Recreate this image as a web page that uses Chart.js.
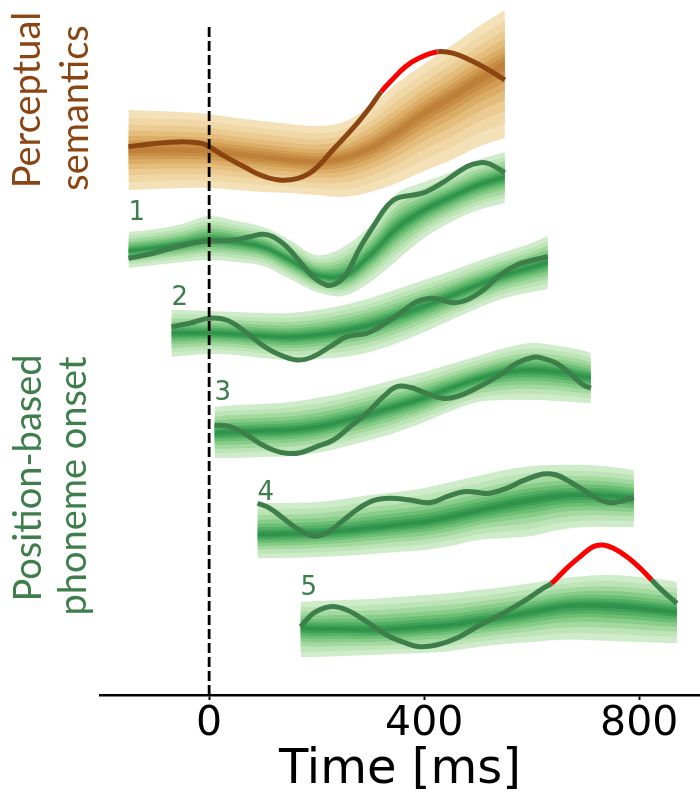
<!DOCTYPE html>
<html>
<head>
<meta charset="utf-8">
<script src="https://cdn.jsdelivr.net/npm/chart.js@4.4.1/dist/chart.umd.min.js"></script>
<style>
  html, body { margin: 0; padding: 0; background: #ffffff; overflow: hidden; }
  #wrap { width: 700px; height: 795px; }
</style>
</head>
<body>
<div id="wrap"><canvas id="chart" width="700" height="795"></canvas></div>
<script>
// ---- Time axis ----
const xTicks = [0, 400, 800];
const onsetLine = [{ x: 0, y: 0 }, { x: 0, y: 66.8 }];

// ---- Vertical offsets of the stacked traces (arbitrary units) ----
const traceOffsets = [54.5, 44.5, 36.0, 26.5, 16.5, 7.0];
const traceTags = ['', '1', '2', '3', '4', '5'];

// ---- Trace 0: perceptual semantics ----
const bandTimes0 = [-150, -100, -50, 0, 50, 100, 150, 200, 250, 300, 350, 400, 450, 500, 550];
const upper0 = [4.0, 3.9, 3.8, 3.6, 3.2, 2.9, 2.6, 2.4, 2.8, 4.4, 6.7, 8.6, 10.4, 12.3, 14.0];
const center0 = [0, 0, 0, -0.1, -0.4, -0.7, -1.0, -1.2, -0.8, 0.2, 1.8, 3.7, 5.3, 7.0, 8.5];
const lower0 = [-4.0, -3.9, -3.8, -3.8, -4.0, -4.2, -4.3, -4.5, -4.7, -4.2, -3.3, -2.1, -1.0, 0.3, 1.2];
const lineTimes0 = [-150, -110, -50, -15, 0, 30, 65, 95, 130, 165, 195, 230, 270, 300, 320, 340, 365, 390, 425, 455, 485, 515, 550];
const lineValues0 = [0.33, 0.6, 0.83, 0.67, 0.33, -0.67, -1.67, -2.5, -3.0, -2.83, -2.0, 0, 2.33, 4.33, 5.83, 7.0, 8.33, 9.17, 9.83, 9.67, 9.0, 8.17, 7.0];
const sigWindow0 = [320, 425];

// ---- Trace 1: phoneme onset, position 1 ----
const bandTimes1 = [-150, -100, -50, 0, 50, 100, 150, 200, 250, 300, 350, 400, 450, 500, 550];
const upper1 = [1.8, 2.1, 2.6, 3.4, 2.9, 2.3, 1.0, -0.5, 0.3, 2.5, 5.7, 6.8, 7.8, 9.0, 9.8];
const center1 = [-0.1, 0.2, 0.6, 1.0, 0.8, 0.3, -1.0, -2.5, -2.6, -0.5, 2.2, 4.0, 5.3, 6.5, 7.3];
const lower1 = [-1.8, -1.5, -1.2, -1.0, -1.2, -1.6, -2.9, -4.2, -4.6, -3.2, -1.0, 1.2, 2.8, 4.0, 4.7];
const lineTimes1 = [-150, -110, -60, -17, 0, 45, 76, 100, 119, 144, 169, 193, 218, 237, 256, 280, 305, 330, 349, 380, 404, 442, 479, 504, 522, 550];
const lineValues1 = [-0.83, -0.4, 0.33, 0.83, 0.9, 1.0, 1.33, 1.57, 1.33, 0.33, -1.17, -2.67, -3.5, -3.33, -2.33, 0.17, 2.33, 4.33, 5.17, 5.5, 5.83, 7.0, 8.33, 8.73, 8.6, 7.73];

// ---- Trace 2 ----
const bandTimes2 = [-70, -50, 0, 50, 100, 150, 200, 250, 300, 350, 400, 450, 500, 550, 600, 630];
const upper2 = [2.5, 2.5, 2.4, 2.3, 2.2, 2.2, 2.5, 3.0, 3.7, 4.6, 5.5, 6.4, 7.4, 8.3, 9.2, 9.9];
const center2 = [0.2, 0.2, 0.2, 0.1, -0.1, -0.2, 0, 0.4, 1.0, 1.9, 2.9, 3.9, 5.0, 6.0, 6.8, 7.3];
const lower2 = [-2.2, -2.1, -1.9, -2.0, -2.3, -2.5, -2.4, -2.2, -1.7, -0.8, 0.3, 1.5, 2.7, 3.7, 4.3, 4.6];
const lineTimes2 = [-70, -36, 0, 32, 63, 94, 125, 163, 193, 225, 256, 293, 318, 355, 386, 417, 454, 479, 510, 541, 572, 603, 630];
const lineValues2 = [0.83, 1.17, 1.67, 1.5, 0.5, -0.83, -1.83, -2.5, -2.17, -1.17, -0.17, 0.17, 0.83, 2.17, 3.33, 3.67, 3.23, 3.5, 4.5, 6.0, 7.0, 7.5, 7.83];

// ---- Trace 3 ----
const bandTimes3 = [10, 50, 100, 150, 200, 250, 300, 350, 400, 450, 500, 550, 600, 650, 700, 710];
const upper3 = [2.3, 2.5, 2.6, 2.8, 3.2, 3.7, 4.4, 5.1, 5.8, 6.6, 7.4, 8.2, 8.7, 8.4, 7.9, 7.7];
const center3 = [-0.3, -0.2, -0.1, 0, 0.3, 0.9, 1.6, 2.4, 3.2, 4.2, 5.1, 5.8, 6.0, 5.8, 5.3, 5.2];
const lower3 = [-2.8, -2.8, -2.7, -2.6, -2.3, -1.7, -1.0, -0.2, 0.8, 1.9, 2.8, 3.0, 3.0, 2.9, 2.7, 2.7];
const lineTimes3 = [10, 39, 70, 94, 119, 144, 169, 200, 231, 262, 293, 324, 349, 373, 404, 435, 460, 497, 541, 572, 603, 621, 646, 671, 696, 710];
const lineValues3 = [0.5, 0.33, -0.5, -1.33, -2.0, -2.33, -2.27, -1.67, -1.0, 0.33, 1.67, 3.33, 4.33, 4.27, 3.67, 3.17, 3.33, 4.17, 5.5, 6.67, 7.27, 7.17, 6.67, 5.67, 4.5, 4.17];

// ---- Trace 4 ----
const bandTimes4 = [90, 150, 200, 250, 300, 350, 400, 450, 500, 550, 600, 650, 700, 750, 790];
const upper4 = [2.7, 2.7, 2.8, 3.1, 3.5, 3.8, 4.2, 4.8, 5.4, 6.0, 6.4, 6.5, 6.5, 6.3, 6.0];
const center4 = [-0.5, -0.4, -0.3, -0.1, 0.2, 0.5, 0.8, 1.3, 1.9, 2.5, 3.0, 3.4, 3.5, 3.4, 3.2];
const lower4 = [-2.8, -2.8, -2.7, -2.6, -2.4, -2.2, -2.0, -1.6, -1.0, -0.8, -0.6, 0, 0.3, 0.3, 0.3];
const lineTimes4 = [90, 113, 138, 163, 193, 218, 243, 274, 305, 336, 373, 411, 442, 473, 497, 522, 553, 584, 621, 646, 671, 696, 721, 746, 770, 790];
const lineValues4 = [2.67, 2.17, 1.17, 0.17, -0.6, -0.33, 0.67, 2.0, 2.93, 3.17, 3.0, 2.73, 3.33, 3.83, 3.77, 3.67, 4.17, 4.93, 5.6, 5.5, 4.83, 4.0, 3.17, 2.73, 2.93, 3.23];

// ---- Trace 5 ----
const bandTimes5 = [170, 200, 250, 300, 350, 400, 450, 500, 550, 600, 650, 700, 750, 800, 850, 870];
const upper5 = [2.3, 2.4, 2.5, 2.6, 2.8, 3.0, 3.2, 3.5, 3.8, 4.2, 4.6, 4.9, 5.0, 4.8, 4.5, 4.3];
const center5 = [-0.3, -0.4, -0.4, -0.5, -0.4, -0.2, 0, 0.4, 0.8, 1.3, 1.8, 2.0, 1.9, 1.7, 1.4, 1.3];
const lower5 = [-3.2, -3.2, -3.1, -3.0, -2.9, -2.8, -2.6, -2.2, -1.9, -1.7, -1.5, -1.5, -1.6, -1.7, -1.8, -1.8];
const lineTimes5 = [170, 194, 225, 256, 293, 330, 367, 392, 423, 460, 504, 541, 584, 621, 637, 665, 690, 714, 733, 752, 777, 802, 823, 845, 870];
const lineValues5 = [-0.17, 1.17, 1.83, 1.5, 0.33, -1.0, -1.83, -2.17, -2.0, -1.33, 0, 1.0, 2.33, 3.67, 4.17, 5.67, 6.83, 7.83, 8.0, 7.67, 6.83, 5.67, 4.5, 3.33, 2.17];
const sigWindow5 = [637, 823];

// ---- Styles ----
const BROWN = '#8b4513';
const GREEN = '#3d7e4b';
const SIG_RED = '#ff0000';
const LEVEL_FRACTIONS = [1, 0.8, 0.63, 0.48, 0.35, 0.24, 0.15, 0.07];
const BROWN_LEVELS = ['#f4e1b8', '#f0d7a6', '#ebcb92', '#e4bd7c', '#dbad67', '#d19d54', '#c78d45', '#bf803a'];
const GREEN_LEVELS = ['#cfecca', '#bce4b6', '#a3d99f', '#87cc89', '#6bbe74', '#52af63', '#3ea056', '#30934c'];
const TAG_LIFT = 3.0;

const traces = [
  { bandTimes: bandTimes0, upper: upper0, center: center0, lower: lower0, lineTimes: lineTimes0, lineValues: lineValues0, sig: sigWindow0, color: BROWN, levels: BROWN_LEVELS },
  { bandTimes: bandTimes1, upper: upper1, center: center1, lower: lower1, lineTimes: lineTimes1, lineValues: lineValues1, sig: null, color: GREEN, levels: GREEN_LEVELS },
  { bandTimes: bandTimes2, upper: upper2, center: center2, lower: lower2, lineTimes: lineTimes2, lineValues: lineValues2, sig: null, color: GREEN, levels: GREEN_LEVELS },
  { bandTimes: bandTimes3, upper: upper3, center: center3, lower: lower3, lineTimes: lineTimes3, lineValues: lineValues3, sig: null, color: GREEN, levels: GREEN_LEVELS },
  { bandTimes: bandTimes4, upper: upper4, center: center4, lower: lower4, lineTimes: lineTimes4, lineValues: lineValues4, sig: null, color: GREEN, levels: GREEN_LEVELS },
  { bandTimes: bandTimes5, upper: upper5, center: center5, lower: lower5, lineTimes: lineTimes5, lineValues: lineValues5, sig: sigWindow5, color: GREEN, levels: GREEN_LEVELS }
].map((tr, k) => Object.assign(tr, { offset: traceOffsets[k], tag: traceTags[k] }));

// ---- Datasets: nested percentile bands, then the observed time course ----
const datasets = [];
traces.forEach(tr => {
  LEVEL_FRACTIONS.forEach((f, i) => {
    const lowIdx = datasets.length;
    datasets.push({
      data: tr.bandTimes.map((t, j) => ({ x: t, y: tr.offset + tr.center[j] - (tr.center[j] - tr.lower[j]) * f })),
      borderColor: 'rgba(0,0,0,0)', borderWidth: 1, pointRadius: 0, fill: false, tension: 0.35
    });
    datasets.push({
      data: tr.bandTimes.map((t, j) => ({ x: t, y: tr.offset + tr.center[j] + (tr.upper[j] - tr.center[j]) * f })),
      borderColor: 'rgba(0,0,0,0)', borderWidth: 1, pointRadius: 0, tension: 0.35,
      fill: lowIdx, backgroundColor: tr.levels[i]
    });
  });
  const sig = tr.sig;
  datasets.push({
    data: tr.lineTimes.map((t, j) => ({ x: t, y: tr.offset + tr.lineValues[j] })),
    borderColor: tr.color, borderWidth: 5, pointRadius: 0, fill: false, tension: 0.4,
    borderCapStyle: 'butt', borderJoinStyle: 'round',
    segment: {
      borderColor: ctx => (sig && ctx.p0.parsed.x >= sig[0] && ctx.p1.parsed.x <= sig[1]) ? SIG_RED : undefined
    }
  });
});
datasets.push({
  data: onsetLine, borderColor: '#000000', borderWidth: 2.8, borderDash: [10, 4],
  pointRadius: 0, fill: false, tension: 0
});
datasets.forEach((d, i) => { d.order = datasets.length - i; });

// ---- Text: trace numbers and group labels ----
const labelPlugin = {
  id: 'traceLabels',
  afterDatasetsDraw(chart) {
    const { ctx, scales: { x, y } } = chart;
    ctx.save();
    ctx.fillStyle = GREEN;
    ctx.font = '26px "DejaVu Sans"';
    ctx.textAlign = 'left';
    ctx.textBaseline = 'alphabetic';
    traces.forEach(tr => {
      if (tr.tag) ctx.fillText(tr.tag, x.getPixelForValue(tr.bandTimes[0]), y.getPixelForValue(tr.offset + TAG_LIFT));
    });
    const rotated = (text, bx, cy, color) => {
      ctx.save();
      ctx.translate(bx, cy);
      ctx.rotate(-Math.PI / 2);
      ctx.fillStyle = color;
      ctx.font = '38px Lato';
      ctx.textAlign = 'center';
      ctx.textBaseline = 'alphabetic';
      ctx.fillText(text, 0, 0);
      ctx.restore();
    };
    rotated('Perceptual', 40, 100, BROWN);
    rotated('semantics', 88, 108, BROWN);
    rotated('Position-based', 41, 478, GREEN);
    rotated('phoneme onset', 86, 486, GREEN);
    ctx.restore();
  }
};

new Chart(document.getElementById('chart'), {
  type: 'line',
  data: { datasets },
  options: {
    responsive: false,
    animation: false,
    events: [],
    layout: { padding: { left: 100, right: 0, top: 0, bottom: 0 } },
    plugins: { legend: { display: false }, tooltip: { enabled: false } },
    scales: {
      x: {
        type: 'linear', min: -203, max: 913,
        afterBuildTicks: s => { s.ticks = xTicks.map(v => ({ value: v })); },
        afterFit: s => { s.height = 100; },
        grid: { display: true, drawOnChartArea: false, drawTicks: true, tickLength: 5, tickWidth: 2, color: '#000000' },
        border: { display: true, color: '#000000', width: 2.5 },
        ticks: { font: { family: 'DejaVu Sans', size: 41 }, color: '#000000', padding: 0, maxRotation: 0, autoSkip: false },
        title: { display: true, text: 'Time [ms]', font: { family: 'DejaVu Sans', size: 48, lineHeight: 1 }, color: '#000000', padding: { top: 0, bottom: 0 } }
      },
      y: { display: false, min: 0, max: 69.5 }
    }
  },
  plugins: [labelPlugin]
});
</script>
</body>
</html>
